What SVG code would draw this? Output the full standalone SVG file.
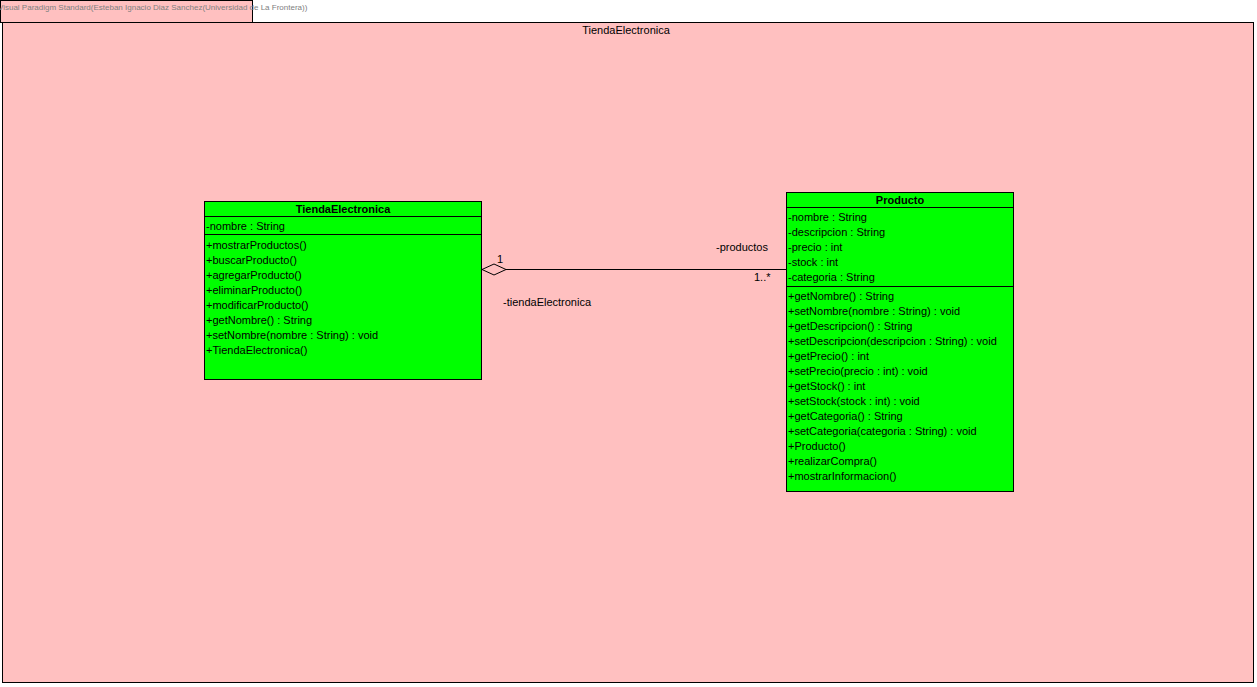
<svg xmlns="http://www.w3.org/2000/svg" width="1257" height="687" viewBox="0 0 1257 687">
  <style>
    text { font-family: "Liberation Sans", Arial, sans-serif; font-size: 11px; fill: #000; }
    .pkg { fill: #FFC0C0; stroke: #000; stroke-width: 1; }
    .cls { fill: #00FF00; stroke: #000; stroke-width: 1; }
    .sep { stroke: #000; stroke-width: 1; }
    .title { font-weight: bold; text-anchor: middle; }
    .wm { font-size: 8px; fill: #808080; }
    .edge { stroke: #000; stroke-width: 1; fill: none; }
  </style>
  <rect width="1257" height="687" fill="#FFFFFF"/>

  <!-- package frame -->
  <g id="pkg-TiendaElectronica">
    <rect class="pkg" x="0.5" y="0.5" width="252" height="22"/>
    <rect class="pkg" x="2.5" y="22.5" width="1251" height="660"/>
    <text class="wm" x="-2" y="10">Visual Paradigm Standard(Esteban Ignacio Diaz Sanchez(Universidad de La Frontera))</text>
    <text x="626" y="34" text-anchor="middle">TiendaElectronica</text>
  </g>

  <!-- connectors -->
  <g id="connectors">
    <line class="edge" x1="506" y1="269.5" x2="786" y2="269.5"/>
    <polygon points="482,269.5 494,264 506,269.5 494,275" fill="#FFC0C0" stroke="#000" stroke-width="1"/>
    <text x="497" y="263">1</text>
    <text x="716" y="251">-productos</text>
    <text x="754" y="281">1..*</text>
    <text x="503" y="306">-tiendaElectronica</text>
  </g>

  <!-- class TiendaElectronica -->
  <g id="class-TiendaElectronica">
    <rect class="cls" x="204.5" y="201.5" width="277" height="178"/>
    <line class="sep" x1="204.5" y1="216.5" x2="481.5" y2="216.5"/>
    <line class="sep" x1="204.5" y1="234.5" x2="481.5" y2="234.5"/>
    <text class="title" x="343" y="213">TiendaElectronica</text>
    <text x="206" y="230">-nombre : String</text>
    <text x="206" y="249">+mostrarProductos()</text>
    <text x="206" y="264">+buscarProducto()</text>
    <text x="206" y="279">+agregarProducto()</text>
    <text x="206" y="294">+eliminarProducto()</text>
    <text x="206" y="309">+modificarProducto()</text>
    <text x="206" y="324">+getNombre() : String</text>
    <text x="206" y="339">+setNombre(nombre : String) : void</text>
    <text x="206" y="354">+TiendaElectronica()</text>
  </g>

  <!-- class Producto -->
  <g id="class-Producto">
    <rect class="cls" x="786.5" y="192.5" width="227" height="299"/>
    <line class="sep" x1="786.5" y1="207.5" x2="1013.5" y2="207.5"/>
    <line class="sep" x1="786.5" y1="286.5" x2="1013.5" y2="286.5"/>
    <text class="title" x="900" y="204">Producto</text>
    <text x="788" y="221">-nombre : String</text>
    <text x="788" y="236">-descripcion : String</text>
    <text x="788" y="251">-precio : int</text>
    <text x="788" y="266">-stock : int</text>
    <text x="788" y="281">-categoria : String</text>
    <text x="788" y="300">+getNombre() : String</text>
    <text x="788" y="315">+setNombre(nombre : String) : void</text>
    <text x="788" y="330">+getDescripcion() : String</text>
    <text x="788" y="345">+setDescripcion(descripcion : String) : void</text>
    <text x="788" y="360">+getPrecio() : int</text>
    <text x="788" y="375">+setPrecio(precio : int) : void</text>
    <text x="788" y="390">+getStock() : int</text>
    <text x="788" y="405">+setStock(stock : int) : void</text>
    <text x="788" y="420">+getCategoria() : String</text>
    <text x="788" y="435">+setCategoria(categoria : String) : void</text>
    <text x="788" y="450">+Producto()</text>
    <text x="788" y="465">+realizarCompra()</text>
    <text x="788" y="480">+mostrarInformacion()</text>
  </g>
</svg>
